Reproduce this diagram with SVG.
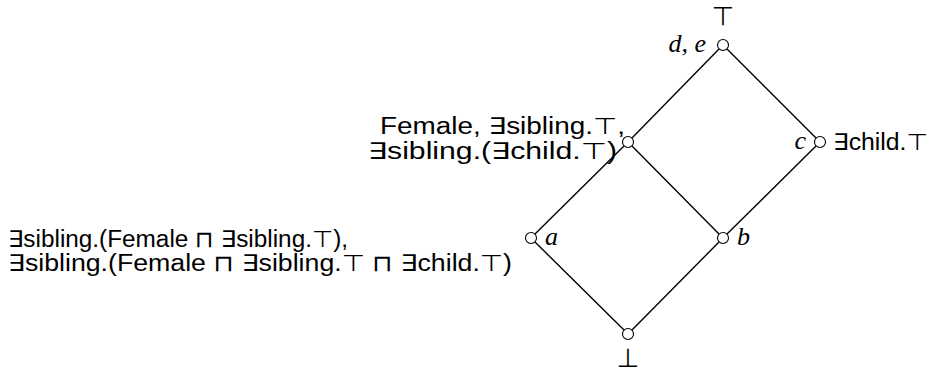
<svg xmlns="http://www.w3.org/2000/svg" width="942" height="376" viewBox="0 0 942 376">
<style>
.n{fill:#fff;stroke:#000;stroke-width:1.1}
.e{stroke:#000;stroke-width:1.4;fill:none}
.s{font-family:"Liberation Sans","DejaVu Sans",sans-serif;font-size:23px;fill:#000}
.m{font-family:"Liberation Serif","DejaVu Serif",serif;font-style:italic;font-size:26px;fill:#000}
.y{font-family:"DejaVu Sans",sans-serif;font-size:26px;fill:#000}
</style>
<rect width="942" height="376" fill="#fff"/>
<g id="edges">
<line class="e" x1="719" y1="49" x2="632" y2="138"/>
<line class="e" x1="727" y1="49" x2="816" y2="138"/>
<line class="e" x1="624" y1="146" x2="535" y2="234"/>
<line class="e" x1="632" y1="146" x2="719" y2="234"/>
<line class="e" x1="816" y1="146" x2="727" y2="234"/>
<line class="e" x1="535" y1="242" x2="624" y2="330"/>
<line class="e" x1="719" y1="242" x2="632" y2="330"/>
</g>
<g id="top">
<circle class="n" cx="723" cy="45" r="5.5"/>
<text class="y" x="723" y="25" text-anchor="middle">⊤</text>
<text class="m" x="706" y="52" text-anchor="end">d, e</text>
</g>
<g id="female">
<circle class="n" cx="628" cy="142" r="5.5"/>
<text class="s" x="380" y="134" textLength="245" lengthAdjust="spacingAndGlyphs">Female, ∃sibling.⊤,</text>
<text class="s" x="368" y="159" textLength="249" lengthAdjust="spacingAndGlyphs">∃sibling.(∃child.⊤)</text>
</g>
<g id="c">
<circle class="n" cx="820" cy="142" r="5.5"/>
<text class="m" x="806" y="149" text-anchor="end">c</text>
<text class="s" x="833" y="150" textLength="95" lengthAdjust="spacingAndGlyphs">∃child.⊤</text>
</g>
<g id="a">
<circle class="n" cx="531" cy="238" r="5.5"/>
<text class="m" x="545" y="245">a</text>
<text class="s" x="8" y="247" textLength="340" lengthAdjust="spacingAndGlyphs">∃sibling.(Female ⊓ ∃sibling.⊤),</text>
<text class="s" x="8" y="271" textLength="504" lengthAdjust="spacingAndGlyphs">∃sibling.(Female ⊓ ∃sibling.⊤ ⊓ ∃child.⊤)</text>
</g>
<g id="b">
<circle class="n" cx="723" cy="238" r="5.5"/>
<text class="m" x="737" y="245">b</text>
</g>
<g id="bottom">
<circle class="n" cx="628" cy="334" r="5.5"/>
<text class="y" x="628" y="367" text-anchor="middle">⊥</text>
</g>
</svg>
